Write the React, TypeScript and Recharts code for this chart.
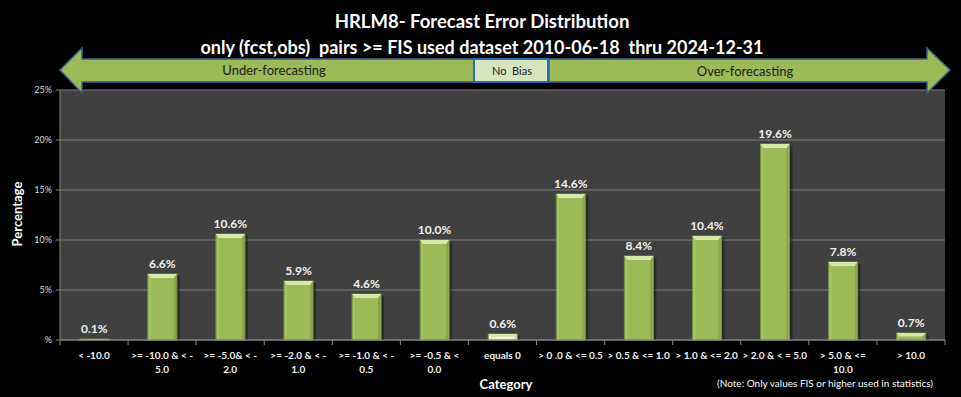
import React from 'react';
import { BarChart, Bar, XAxis, YAxis, CartesianGrid, LabelList, Cell } from 'recharts';

const categories = [
  '< -10.0',
  '>= -10.0 & < -\n5.0',
  '>= -5.0& < -\n2.0',
  '>= -2.0 & < -\n1.0',
  '>= -1.0 & < -\n0.5',
  '>= -0.5 & <\n0.0',
  'equals 0',
  '> 0 .0 & <= 0.5',
  '> 0.5 & <= 1.0',
  '> 1.0 & <= 2.0',
  '> 2.0 & < = 5.0',
  '> 5.0 & <=\n10.0',
  '> 10.0',
];
const percentages = [0.1, 6.6, 10.6, 5.9, 4.6, 10.0, 0.6, 14.6, 8.4, 10.4, 19.6, 7.8, 0.7];
const yTicks = [0, 5, 10, 15, 20, 25];
const titleLines = [
  'HRLM8- Forecast Error Distribution',
  'only (fcst,obs)  pairs >= FIS used dataset 2010-06-18  thru 2024-12-31',
];

const data = categories.map((c, i) => ({ category: c, value: percentages[i] }));

const W = 961;
const H = 397;
const M = { top: 90, right: 16, left: 0, bottom: 0 };
const Y_AXIS_W = 60;
const X_AXIS_H = 57;
const PLOT_W = W - M.left - M.right - Y_AXIS_W;
const STEP = PLOT_W / categories.length;
const FONT = 'Lato, "Open Sans", sans-serif';
const PRE = { whiteSpace: 'pre' as const };

const BarShape = (props: any) => {
  const { x, y, width, height, fill } = props;
  if (height == null || width == null || width <= 0) return null;
  const h = Math.max(height, 1);
  const yy = y + height - h;
  const bevel = Math.min(4, h / 2);
  return (
    <g>
      <rect x={x + 3} y={yy + 2} width={width} height={Math.max(h - 2, 0)} fill="rgba(0,0,0,0.35)" />
      <rect x={x} y={yy} width={width} height={h} fill={fill} stroke="#76923C" strokeWidth={1} />
      <rect x={x + 1} y={yy + 1} width={2} height={Math.max(h - 2, 0)} fill="rgba(255,255,255,0.12)" />
      <rect x={x + width - 3} y={yy + 1} width={2} height={Math.max(h - 2, 0)} fill="rgba(0,0,0,0.12)" />
      <polygon
        points={`${x},${yy} ${x + width},${yy} ${x + width - 3},${yy + bevel} ${x + 3},${yy + bevel}`}
        fill="#D7E8A8"
      />
    </g>
  );
};

const XTick = (props: any) => {
  const { x, y, payload, index } = props;
  const lines = String(payload.value).split('\n');
  return (
    <g>
      <line x1={x - STEP / 2} y1={y} x2={x - STEP / 2} y2={y + 5} stroke="#868686" />
      {index === categories.length - 1 && (
        <line x1={x + STEP / 2} y1={y} x2={x + STEP / 2} y2={y + 5} stroke="#868686" />
      )}
      {lines.map((l, i) => (
        <text
          key={i}
          x={x}
          y={y + 19 + i * 14}
          textAnchor="middle"
          fill="#f2f2f2"
          fontSize={10}
          fontWeight="bold"
          fontFamily={FONT}
        >
          {l}
        </text>
      ))}
    </g>
  );
};

export default function App() {
  return (
    <div style={{ position: 'absolute', left: 0, top: 0, width: W, height: H, background: '#000' }}>
      <BarChart width={W} height={H} data={data} margin={M} barCategoryGap="29%">
        <CartesianGrid vertical={false} fill="#404040" stroke="#7f7f7f" strokeWidth={1} />
        <XAxis
          dataKey="category"
          interval={0}
          height={X_AXIS_H}
          stroke="#868686"
          tickLine={false}
          tickSize={0}
          tickMargin={0}
          tick={<XTick />}
        />
        <YAxis
          width={Y_AXIS_W}
          domain={[0, 25]}
          ticks={yTicks}
          stroke="#868686"
          tickSize={4}
          tickMargin={4}
          tick={{ fill: '#d9d9d9', fontSize: 9, fontFamily: FONT }}
          tickFormatter={(v: number) => (v === 0 ? '%' : `${v}%`)}
        />
        <Bar dataKey="value" fill="#9BBB59" isAnimationActive={false} shape={<BarShape />}>
          {data.map((d, i) => (
            <Cell key={i} fill={d.category === 'equals 0' ? '#EEF3E2' : '#9BBB59'} />
          ))}
          <LabelList
            dataKey="value"
            position="top"
            offset={6}
            formatter={(v: number) => `${v.toFixed(1)}%`}
            fill="#f2f2f2"
            fontSize={12}
            fontWeight="bold"
            fontFamily={FONT}
          />
        </Bar>
      </BarChart>
      <svg
        width={W}
        height={H}
        style={{ position: 'absolute', left: 0, top: 0, pointerEvents: 'none' }}
      >
        <text x={482} y={28} textAnchor="middle" fill="#fff" fontSize={18.5} fontWeight="bold" fontFamily={FONT} style={PRE}>
          {titleLines[0]}
        </text>
        <text x={482} y={54} textAnchor="middle" fill="#fff" fontSize={18} fontWeight="bold" fontFamily={FONT} style={PRE}>
          {titleLines[1]}
        </text>
        <polygon
          points="60,70 82,48 82,59 474,59 474,82 82,82 82,93"
          fill="#9BBB59"
          stroke="#3B5E8C"
          strokeWidth={1.5}
        />
        <polygon
          points="950,70 927,48 927,59 549,59 549,82 927,82 927,93"
          fill="#9BBB59"
          stroke="#3B5E8C"
          strokeWidth={1.5}
        />
        <rect x={474} y={59} width={74} height={23} fill="#D7E4BD" stroke="#1F6FB5" strokeWidth={2} />
        <text x={274} y={75} textAnchor="middle" fill="#1a1a1a" fontSize={13} fontFamily={FONT}>
          Under-forecasting
        </text>
        <text x={512} y={75} textAnchor="middle" fill="#1a1a1a" fontSize={11} fontFamily={FONT} style={PRE}>
          {'No  Bias'}
        </text>
        <text x={745} y={76} textAnchor="middle" fill="#1a1a1a" fontSize={13} fontFamily={FONT}>
          Over-forecasting
        </text>
        <text
          x={22}
          y={214}
          transform="rotate(-90 22 214)"
          textAnchor="middle"
          fill="#fff"
          fontSize={13}
          fontWeight="bold"
          fontFamily={FONT}
        >
          Percentage
        </text>
        <text x={506} y={389} textAnchor="middle" fill="#fff" fontSize={13} fontWeight="bold" fontFamily={FONT}>
          Category
        </text>
        <text x={825} y={387} textAnchor="middle" fill="#fff" fontSize={10} fontFamily={FONT}>
          (Note: Only values FIS or higher used in statistics)
        </text>
      </svg>
    </div>
  );
}
